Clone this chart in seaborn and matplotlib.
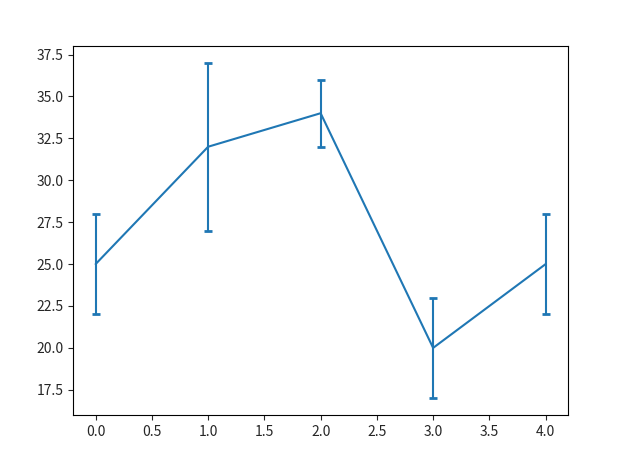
import matplotlib
matplotlib.use("Agg")
import matplotlib.pyplot as plt
import seaborn as sns
import pandas as pd

# datos
x_vals = [0, 1, 2, 3, 4]
y_vals = [25, 32, 34, 20, 25]
y_err = [3, 5, 2, 3, 3]

sns.set_style("ticks")
plt.rcParams["font.family"] = ["Noto Sans CJK SC", "DejaVu Sans"]

df = pd.DataFrame({"x": x_vals, "y": y_vals, "err": y_err})

fig = plt.figure(figsize=(6.25, 4.57), dpi=100)
ax = fig.add_axes([0.117, 0.092, 0.792, 0.807])
sns.lineplot(data=df, x="x", y="y", ax=ax, color="#1f77b4", linewidth=1.5)
ax.errorbar(df["x"], df["y"], yerr=df["err"], fmt="none", ecolor="#1f77b4",
            capsize=3, capthick=2, elinewidth=1.5)

ax.set_xlabel("")
ax.set_ylabel("")
ax.set_xticks([0, 0.5, 1, 1.5, 2, 2.5, 3, 3.5, 4])
ax.set_xticklabels(["0.0", "0.5", "1.0", "1.5", "2.0", "2.5", "3.0", "3.5", "4.0"])
ax.set_yticks([17.5, 20, 22.5, 25, 27.5, 30, 32.5, 35, 37.5])
ax.set_yticklabels(["17.5", "20.0", "22.5", "25.0", "27.5", "30.0", "32.5", "35.0", "37.5"])
ax.set_xlim(-0.2, 4.2)
ax.set_ylim(16.0, 38.0)
ax.tick_params(labelsize=10, length=3.5, width=0.8)
for s in ax.spines.values():
    s.set_visible(True)
    s.set_linewidth(0.8)
    s.set_color("black")

fig.savefig("out.png", dpi=100)
plt.close()
